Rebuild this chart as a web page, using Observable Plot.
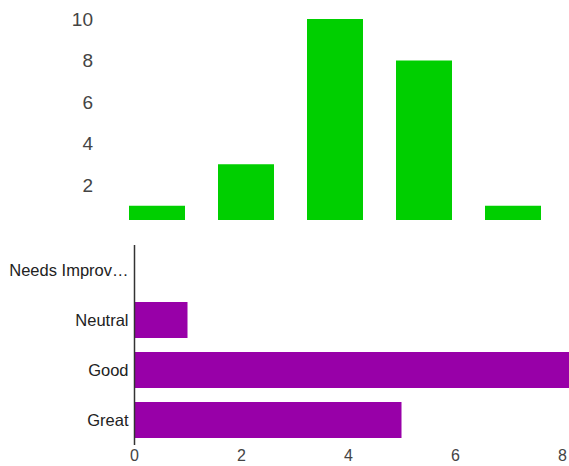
<!DOCTYPE html>
<html>
<head>
<meta charset="utf-8">
<script src="https://cdn.jsdelivr.net/npm/d3@7"></script>
<script src="https://cdn.jsdelivr.net/npm/@observablehq/plot@0.6"></script>
<style>
  html, body { margin: 0; padding: 0; background: #fff; overflow: hidden; }
  #wrap { position: relative; width: 569px; height: 466px; overflow: hidden; font-family: "Liberation Sans", Arial, sans-serif; }
  #top { position: absolute; left: 0; top: 0; width: 569px; height: 220px; overflow: hidden; }
  #bottom { position: absolute; left: 0; top: 230px; width: 569px; height: 236px; overflow: hidden; }
  svg { overflow: hidden; }
</style>
</head>
<body>
<div id="wrap"><div id="top"></div><div id="bottom"></div></div>
<script>
// Top chart (vertical bars)
const ratingLabels = ["1", "2", "3", "4", "5"];
const ratingCounts = [1, 3, 10, 8, 1];
const yTicks = [0, 2, 4, 6, 8, 10];

// Bottom chart (horizontal bars)
const categories = ["Needs Improv…", "Neutral", "Good", "Great"];
const categoryCounts = [0, 1, 9, 5];
const xTicks = [0, 2, 4, 6, 8];

const topData = ratingLabels.map((r, i) => ({r, c: ratingCounts[i]}));
const bottomData = categories.map((cat, i) => ({cat, n: categoryCounts[i]}));

const font = {fontFamily: "'Liberation Sans', Arial, sans-serif", fontSize: "16px", background: "transparent", overflow: "hidden"};

const topPlot = Plot.plot({
  width: 569,
  height: 240,
  marginTop: 19,
  marginBottom: 13.5,
  marginLeft: 112.5,
  marginRight: 11.5,
  style: font,
  x: {domain: ratingLabels, paddingInner: 0.37, paddingOuter: 0.185, axis: null, label: null},
  y: {domain: [0, 10], axis: null, label: null},
  marks: [
    Plot.barY(topData, {x: "r", y: "c", fill: "#00cf00"}),
    Plot.axisY(yTicks, {tickSize: 0, tickPadding: 20, color: "#444", fontSize: 19, label: null})
  ]
});
document.getElementById("top").appendChild(topPlot);

const bottomPlot = Plot.plot({
  width: 569,
  height: 236,
  marginTop: 15,
  marginBottom: 21,
  marginLeft: 134,
  marginRight: 7,
  style: font,
  x: {domain: [0, 8], axis: null, label: null},
  y: {domain: categories, paddingInner: 0.28, paddingOuter: 0.14, axis: null, label: null},
  marks: [
    Plot.barX(bottomData, {y: "cat", x: "n", fill: "#9800a8"}),
    Plot.ruleX([0], {stroke: "#333", strokeWidth: 1.5}),
    Plot.axisY({tickSize: 0, tickPadding: 6, color: "#222", fontSize: 16.5, label: null}),
    Plot.axisX(xTicks, {tickSize: 0, tickPadding: 4, color: "#444", fontSize: 16, label: null})
  ]
});
document.getElementById("bottom").appendChild(bottomPlot);
</script>
</body>
</html>
